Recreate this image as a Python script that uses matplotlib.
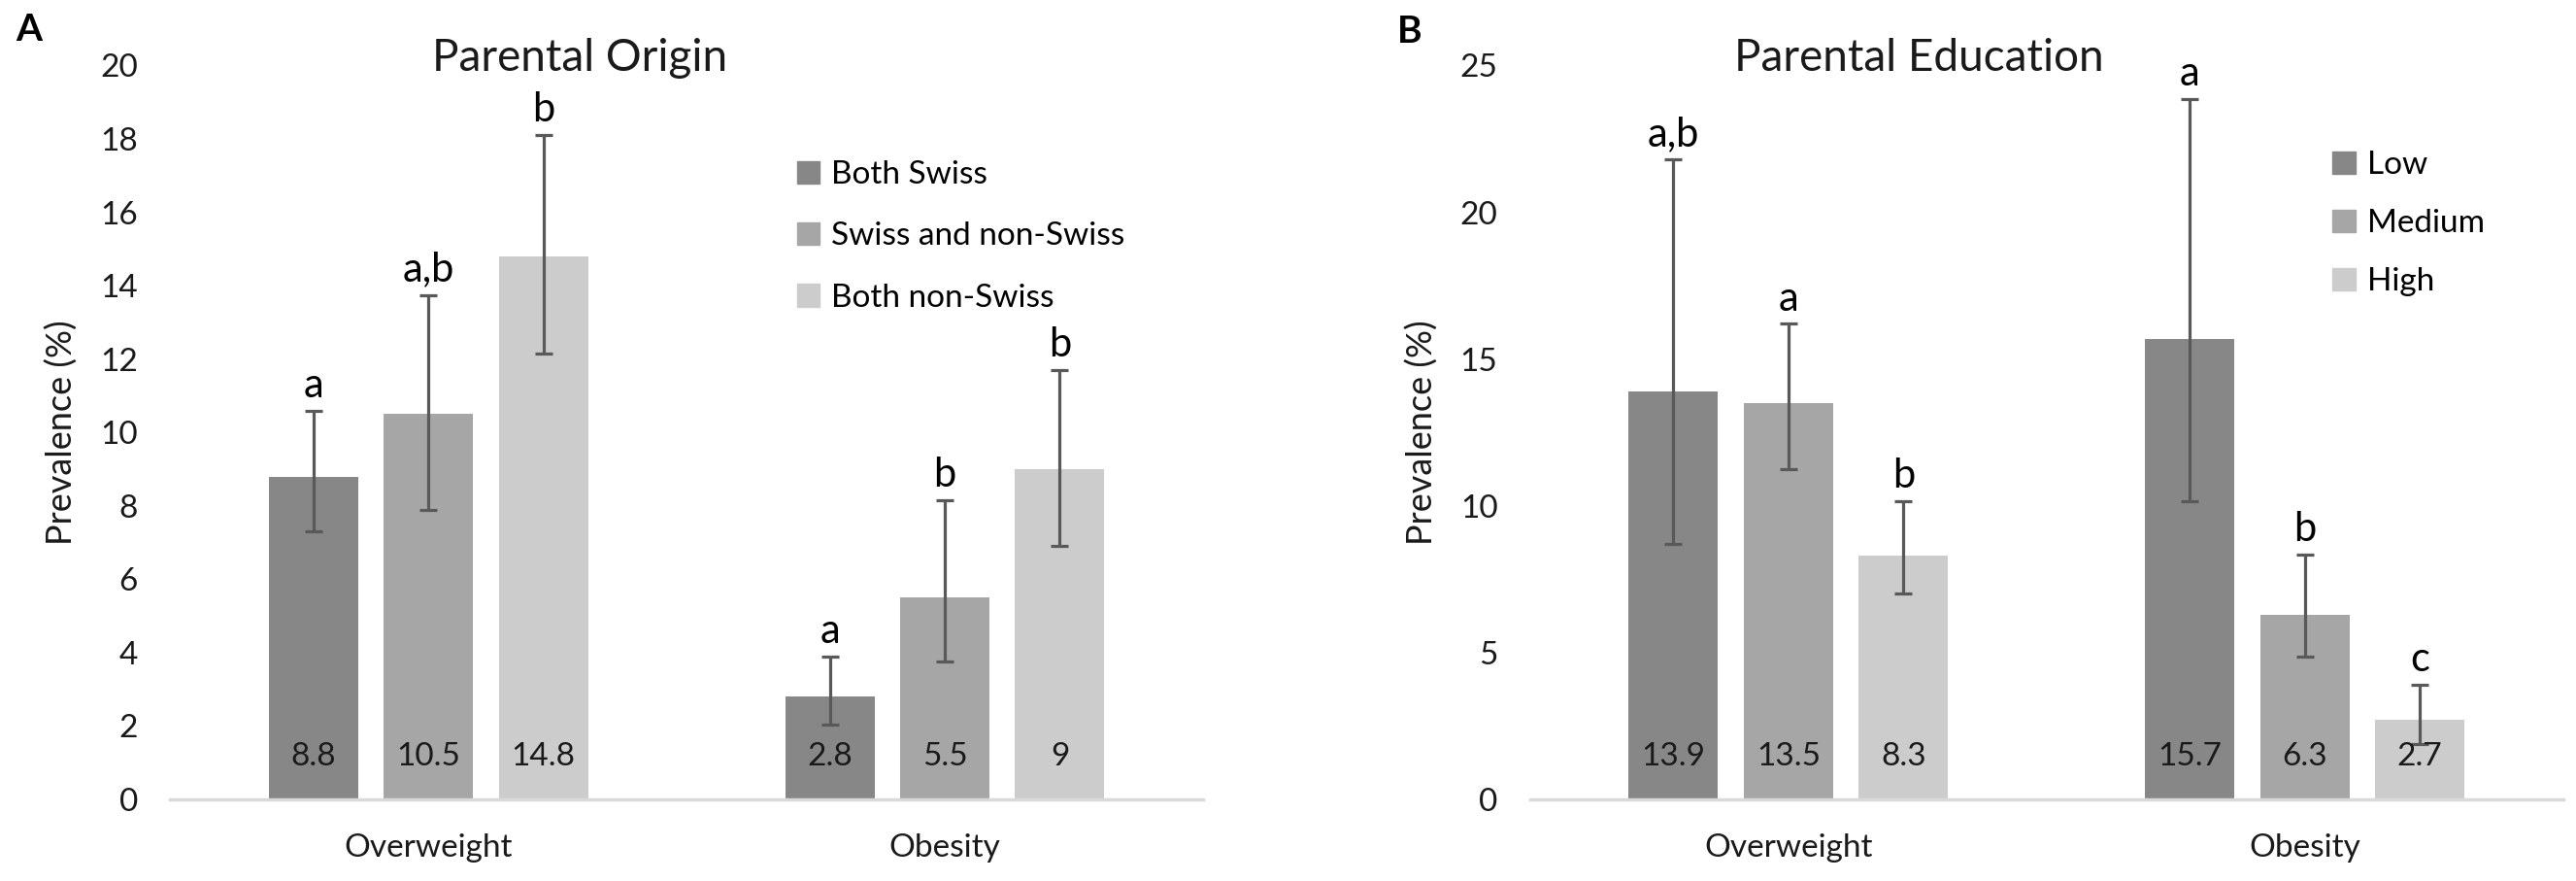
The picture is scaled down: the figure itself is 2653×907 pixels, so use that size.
import matplotlib
matplotlib.use('Agg')
import matplotlib.pyplot as plt
import numpy as np
from matplotlib.patches import Patch

plt.rcParams['font.family'] = ['Lato', 'DejaVu Sans']

categories = ['Overweight', 'Obesity']

# panel A - parental origin
origin_groups = ['Both Swiss', 'Swiss and non-Swiss', 'Both non-Swiss']
origin_vals = [[8.8, 2.8], [10.5, 5.5], [14.8, 9.0]]
origin_lo = [[7.3, 2.05], [7.9, 3.75], [12.15, 6.9]]
origin_hi = [[10.6, 3.9], [13.75, 8.15], [18.1, 11.7]]
origin_letters = [['a', 'a'], ['a,b', 'b'], ['b', 'b']]
origin_text = [['8.8', '2.8'], ['10.5', '5.5'], ['14.8', '9']]

# panel B - parental education
edu_groups = ['Low', 'Medium', 'High']
edu_vals = [[13.9, 15.7], [13.5, 6.3], [8.3, 2.7]]
edu_lo = [[8.7, 10.15], [11.25, 4.85], [7.0, 1.9]]
edu_hi = [[21.8, 23.85], [16.2, 8.35], [10.15, 3.9]]
edu_letters = [['a,b', 'a'], ['a', 'b'], ['b', 'c']]
edu_text = [['13.9', '15.7'], ['13.5', '6.3'], ['8.3', '2.7']]

colors = ['#878787', '#a6a6a6', '#cccccc']
err_col = '#595959'
txt_col = '#1a1a1a'

fig = plt.figure(figsize=(26.53, 9.07), dpi=100)
axA = fig.add_axes([0.066, 0.0926, 0.401, 0.833])
axB = fig.add_axes([0.594, 0.0926, 0.401, 0.833])


def draw(ax, groups, vals, lo, hi, letters, texts, ymax, step, title, title_x, leg_xy, leg_space):
    x = np.arange(len(categories))
    width = 0.173
    offs = [-0.2227, 0.0, 0.2227]
    for i, g in enumerate(groups):
        v = np.array(vals[i])
        yerr = [v - np.array(lo[i]), np.array(hi[i]) - v]
        ax.bar(x + offs[i], v, width, color=colors[i], label=g, zorder=2)
        ax.errorbar(x + offs[i], v, yerr=yerr, fmt='none', ecolor=err_col,
                    elinewidth=2.3, capsize=6.5, capthick=2.3, zorder=3)
        for j in range(len(categories)):
            ax.annotate(letters[i][j], (x[j] + offs[i], hi[i][j]), xytext=(0, 10),
                        textcoords='offset points', ha='center', va='baseline',
                        fontsize=30, color='black')
            ax.annotate(texts[i][j], (x[j] + offs[i], 0), xytext=(0, 32),
                        textcoords='offset points', ha='center', va='center',
                        fontsize=24, color=txt_col)
    ax.set_xlim(-0.5, 1.5)
    ax.set_ylim(0, ymax)
    ax.set_yticks(np.arange(0, ymax + 0.1, step))
    ax.set_xticks(x)
    ax.set_xticklabels(categories)
    ax.tick_params(axis='y', length=0, pad=24, labelsize=24, labelcolor=txt_col)
    ax.tick_params(axis='x', length=0, pad=25, labelsize=24, labelcolor=txt_col)
    for s in ['top', 'right', 'left']:
        ax.spines[s].set_visible(False)
    ax.spines['bottom'].set_color('#d9d9d9')
    ax.spines['bottom'].set_linewidth(2.5)
    ax.set_ylabel('Prevalence (%)', fontsize=26, color=txt_col)
    ax.yaxis.set_label_coords(-0.089, 0.5)
    ax.text(title_x, 1.01, title, transform=ax.transAxes, ha='center', va='center',
            fontsize=33, color=txt_col)
    handles = [Patch(color=c) for c in colors]
    ax.legend(handles, groups, loc='upper left', bbox_to_anchor=leg_xy, frameon=False,
              fontsize=24, handlelength=0.7, handleheight=0.7, handletextpad=0.36,
              labelspacing=leg_space, borderpad=0, borderaxespad=0)


draw(axA, origin_groups, origin_vals, origin_lo, origin_hi, origin_letters, origin_text,
     20, 2, 'Parental Origin', 0.397, (0.607, 0.871), 1.0)
draw(axB, edu_groups, edu_vals, edu_lo, edu_hi, edu_letters, edu_text,
     25, 5, 'Parental Education', 0.376, (0.777, 0.884), 0.9)

fig.text(30 / 2653, 1 - 30 / 907, 'A', fontsize=28, fontweight='bold', ha='center', va='center')
fig.text(1452 / 2653, 1 - 33 / 907, 'B', fontsize=28, fontweight='bold', ha='center', va='center')

fig.savefig('out.png', dpi=100)
